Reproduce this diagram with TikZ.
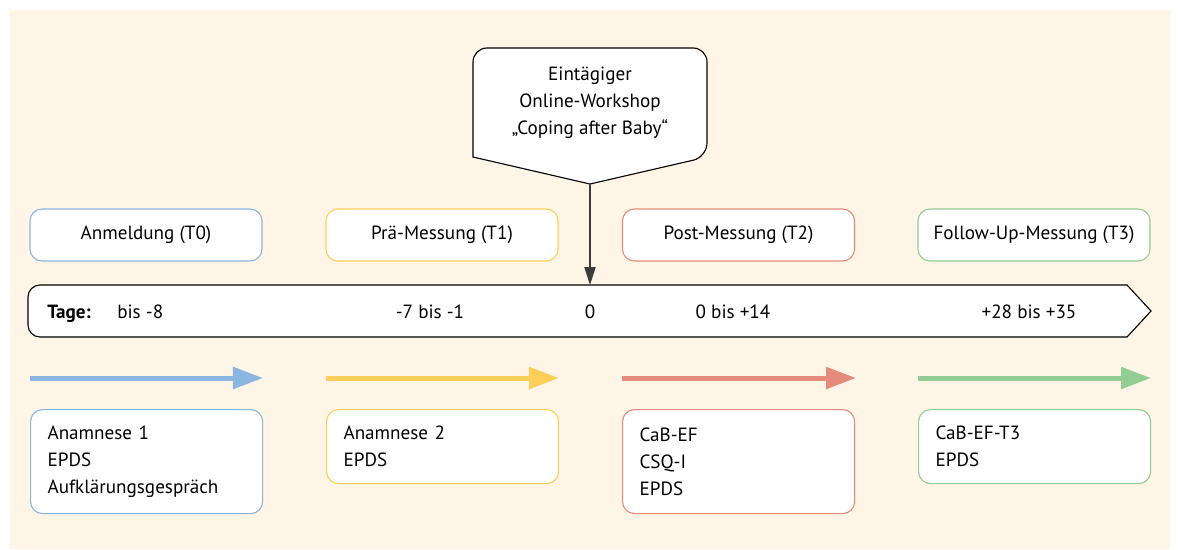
\documentclass[tikz,border=0pt]{standalone}
\usepackage{fontspec}
\setmainfont{PT Sans}
\usetikzlibrary{arrows.meta}

\definecolor{bgbeige}{HTML}{FEF5E6}
\definecolor{tzblue}{HTML}{8AB6E0}
\definecolor{tzyellow}{HTML}{FDCF5A}
\definecolor{tzred}{HTML}{E48B7B}
\definecolor{tzgreen}{HTML}{92CD94}
\definecolor{darkline}{HTML}{3C3C3C}

\tikzset{
  phase/.style={draw=#1, fill=white, line width=0.8pt, rounded corners=0.3cm,
    minimum width=5.8cm, minimum height=1.3cm, inner sep=0pt},
  measures/.style={draw=#1, fill=white, line width=0.8pt, rounded corners=0.3cm,
    text width=4.95cm, inner xsep=0.425cm, inner ysep=0pt, align=left,
    anchor=north west},
  flow/.style={draw=#1, line width=0.125cm, -{Triangle[length=0.75cm, width=0.53cm]}},
  day/.style={inner sep=0pt, anchor=base}
}

\begin{document}
\begin{tikzpicture}[x=0.025cm, y=-0.025cm, font=\fontsize{13.6}{19.2}\selectfont]
	\useasboundingbox (0,0) rectangle (1178,549);
	\fill[bgbeige] (10,10) rectangle (1170,549);

	% workshop callout
	\draw[fill=white, line width=0.8pt, rounded corners=0.35cm]
		(473,100) -- (473,48) -- (707,48) -- (707,157)
		[rounded corners=0pt] -- (590,184) -- (473,157) [rounded corners=0.35cm] -- cycle;
	\coordinate (tip) at (590,184);
	\node[align=center, inner sep=0pt] (workshop) at (590,103)
		{Eintägiger\\Online-Workshop\\„Coping after Baby“};

	% time line
	\draw[fill=white, line width=0.8pt]
		(60,285) -- (1127,285) -- (1151,311) -- (1127,337) -- (60,337)
		[rounded corners=0.3cm] -- (28,337) -- (28,285) -- (60,285);
	\coordinate (line) at (590,285);
	\draw[darkline, line width=1pt, -{Triangle[length=0.45cm, width=0.28cm]}] (tip) -- (line);

	\node[day, anchor=base west] (tage) at (47,318) {\textbf{Tage:}};
	\node[day, anchor=base west] (d0) at (117,318) {bis -8};
	\node[day] (d1) at (430,318) {-7 bis -1};
	\node[day] (d2) at (590,318) {0};
	\node[day] (d3) at (733,318) {0 bis +14};
	\node[day] (d4) at (1029,318) {+28 bis +35};

	% phases
	\node[phase=tzblue] (t0) at (146,235) {Anmeldung (T0)};
	\node[phase=tzyellow] (t1) at (442,235) {Prä-Messung (T1)};
	\node[phase=tzred] (t2) at (738.5,235) {Post-Messung (T2)};
	\node[phase=tzgreen] (t3) at (1034,235) {Follow-Up-Messung (T3)};

	% arrows below the time line
	\coordinate (a0) at (30,378);
	\coordinate (b0) at (263,378);
	\coordinate (a1) at (326,378);
	\coordinate (b1) at (559,378);
	\coordinate (a2) at (622,378);
	\coordinate (b2) at (856,378);
	\coordinate (a3) at (918,378);
	\coordinate (b3) at (1151,378);
	\draw[flow=tzblue] (a0) -- (b0);
	\draw[flow=tzyellow] (a1) -- (b1);
	\draw[flow=tzred] (a2) -- (b2);
	\draw[flow=tzgreen] (a3) -- (b3);

	% instruments
	\node[measures=tzblue, minimum height=2.6cm] (m0) at (30,409)
		{Anamnese 1\\EPDS\\Aufklärungsgespräch};
	\node[measures=tzyellow, minimum height=1.85cm] (m1) at (326,409)
		{Anamnese 2\\EPDS};
	\node[measures=tzred, minimum height=2.6cm] (m2) at (622,409)
		{CaB-EF\\CSQ-I\\EPDS};
	\node[measures=tzgreen, minimum height=1.85cm] (m3) at (918,409)
		{CaB-EF-T3\\EPDS};
\end{tikzpicture}
\end{document}
